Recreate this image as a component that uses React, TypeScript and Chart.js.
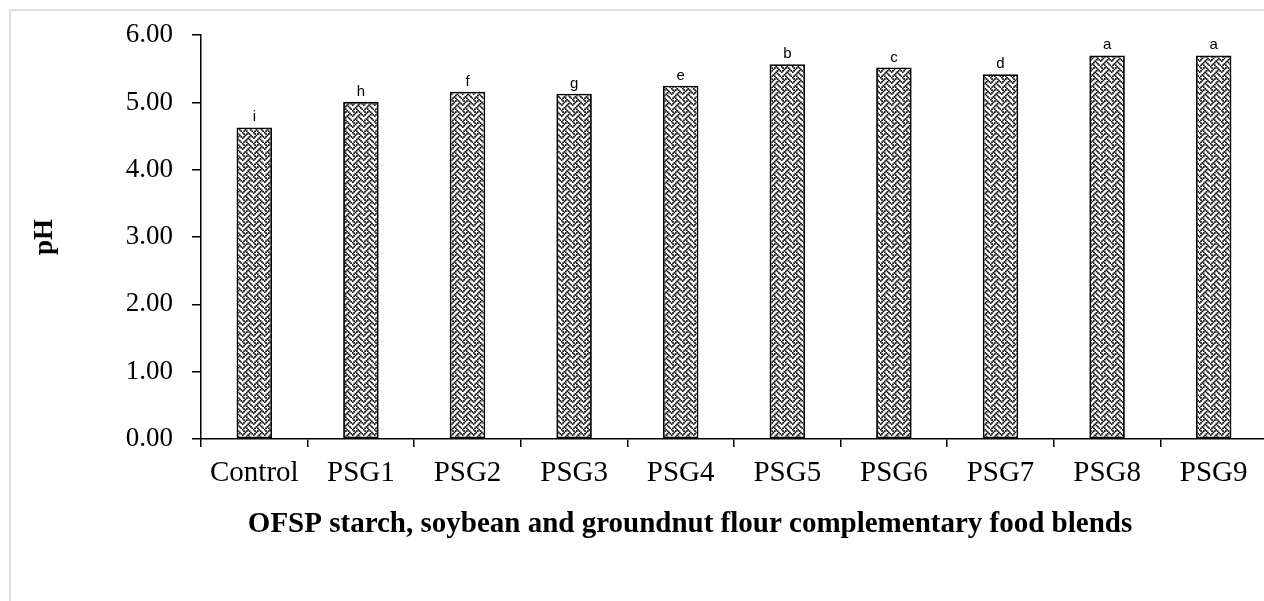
import { useEffect, useRef } from 'react';
import { Chart, registerables } from 'chart.js';

Chart.register(...registerables);

const categories = ['Control', 'PSG1', 'PSG2', 'PSG3', 'PSG4', 'PSG5', 'PSG6', 'PSG7', 'PSG8', 'PSG9'];
const phValues = [4.63, 5.01, 5.16, 5.13, 5.25, 5.57, 5.52, 5.42, 5.70, 5.70];
const significanceLetters = ['i', 'h', 'f', 'g', 'e', 'b', 'c', 'd', 'a', 'a'];
const yTickValues = [0, 1, 2, 3, 4, 5, 6];
const yAxisTitle = 'pH';
const xAxisTitle = 'OFSP starch, soybean and groundnut flour complementary food blends';

const SERIF = '"Times New Roman", "Liberation Serif", serif';

function makeWeavePattern(): CanvasPattern | string {
  const size = 11;
  const k = size / 8;
  const c = document.createElement('canvas');
  c.width = size;
  c.height = size;
  const ctx = c.getContext('2d');
  if (!ctx) return '#888';
  ctx.fillStyle = '#ffffff';
  ctx.fillRect(0, 0, size, size);
  ctx.fillStyle = '#000000';
  const bits = [0x88, 0x54, 0x22, 0x45, 0x88, 0x14, 0x22, 0x51];
  bits.forEach((row, y) => {
    for (let x = 0; x < 8; x++) {
      if (row & (0x80 >> x)) ctx.fillRect(x * k - 0.15, y * k - 0.15, k + 0.3, k + 0.3);
    }
  });
  return ctx.createPattern(c, 'repeat') || '#888';
}

const lettersPlugin = {
  id: 'letters',
  afterDatasetsDraw(chart: any) {
    const ctx = chart.ctx;
    const meta = chart.getDatasetMeta(0);
    ctx.save();
    ctx.font = '15px "Liberation Sans", Arial, sans-serif';
    ctx.fillStyle = '#000';
    ctx.textAlign = 'center';
    ctx.textBaseline = 'alphabetic';
    meta.data.forEach((bar: any, i: number) => {
      ctx.fillText(significanceLetters[i], bar.x, bar.y - 6);
    });
    ctx.restore();
  },
};

const xTitlePlugin = {
  id: 'xTitle',
  afterDraw(chart: any) {
    const ctx = chart.ctx;
    const area = chart.chartArea;
    ctx.save();
    ctx.font = 'bold 29px ' + SERIF;
    ctx.fillStyle = '#000';
    ctx.textAlign = 'center';
    ctx.textBaseline = 'alphabetic';
    ctx.fillText(xAxisTitle, area.left + 489, area.bottom + 93);
    ctx.restore();
  },
};

export default function App() {
  const canvasRef = useRef<HTMLCanvasElement | null>(null);

  useEffect(() => {
    document.body.style.margin = '0';
    document.body.style.overflow = 'hidden';
    const canvas = canvasRef.current;
    if (!canvas) return;
    const chart = new Chart(canvas, {
      type: 'bar',
      data: {
        labels: categories,
        datasets: [
          {
            label: 'pH',
            data: phValues,
            backgroundColor: makeWeavePattern() as any,
            borderColor: '#000',
            borderWidth: 1.8,
            borderSkipped: false,
            categoryPercentage: 1,
            barPercentage: 0.333,
          },
        ],
      },
      options: {
        animation: false,
        responsive: false,
        maintainAspectRatio: false,
        devicePixelRatio: 1,
        layout: { padding: { left: 0, right: 13, top: 33, bottom: 0 } },
        plugins: {
          legend: { display: false },
          tooltip: { enabled: false },
        },
        scales: {
          x: {
            afterFit: (scale: any) => {
              scale.height = 162;
            },
            grid: {
              display: true,
              drawOnChartArea: false,
              drawTicks: true,
              tickLength: 8,
              color: '#000',
              lineWidth: 1.5,
              offset: true,
            },
            border: { display: true, color: '#000', width: 1.5 },
            ticks: {
              color: '#000',
              font: { family: SERIF, size: 29 },
              padding: 9,
              maxRotation: 0,
              autoSkip: false,
            },
          },
          y: {
            min: 0,
            max: 6,
            afterFit: (scale: any) => {
              scale.width = 201;
            },
            afterBuildTicks: (scale: any) => {
              scale.ticks = yTickValues.map((v) => ({ value: v }));
            },
            grid: {
              display: true,
              drawOnChartArea: false,
              drawTicks: true,
              tickLength: 9,
              color: '#000',
              lineWidth: 1.5,
            },
            border: { display: true, color: '#000', width: 1.5 },
            ticks: {
              color: '#000',
              font: { family: SERIF, size: 27 },
              padding: 19,
              callback: (v: any) => Number(v).toFixed(2),
            },
            title: {
              display: true,
              text: yAxisTitle,
              color: '#000',
              font: { family: SERIF, size: 27, weight: 'bold' },
              padding: { top: 29, bottom: 0 },
            },
          },
        },
      },
      plugins: [lettersPlugin, xTitlePlugin],
    });
    return () => chart.destroy();
  }, []);

  return (
    <div style={{ position: 'relative', width: 1264, height: 601, overflow: 'hidden', background: '#fff' }}>
      <div
        style={{
          position: 'absolute',
          left: 9,
          top: 9,
          width: 1400,
          height: 700,
          border: '2px solid #dedede',
          boxSizing: 'border-box',
        }}
      />
      <canvas
        ref={canvasRef}
        width={1280}
        height={601}
        style={{ position: 'absolute', left: 0, top: 0, width: 1280, height: 601 }}
      />
    </div>
  );
}
